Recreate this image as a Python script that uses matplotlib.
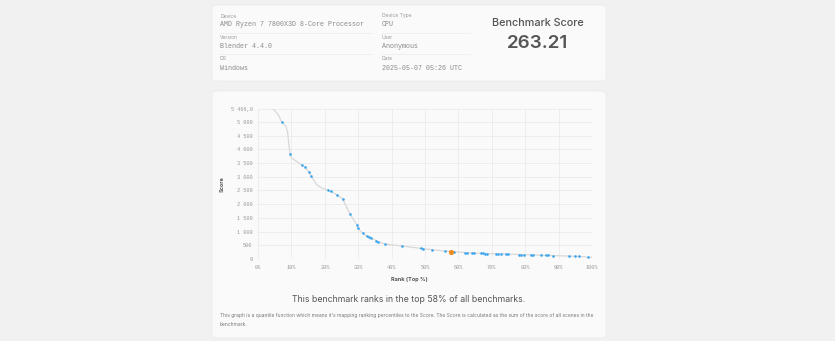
import matplotlib
matplotlib.use("Agg")
import matplotlib.pyplot as plt
from matplotlib.patches import FancyBboxPatch
from matplotlib.ticker import FuncFormatter, MultipleLocator

# benchmark results shown as dots (rank in top %, score)
rank_pct = [7.1, 9.6, 13.3, 14.1, 15.3, 15.9, 20.9, 21.9, 23.6, 25.3, 27.6, 29.6,
            29.9, 31.3, 32.6, 33.3, 33.9, 35.3, 35.9, 37.9, 43.1, 48.9, 49.5, 52.1,
            55.9, 58.7, 61.9, 62.7, 64.2, 64.7, 66.7, 67.4, 68.0, 68.7, 71.4, 72.0,
            72.7, 74.4, 74.9, 78.0, 78.7, 79.5, 81.7, 82.3, 84.7, 86.2, 86.7, 88.2,
            93.2, 95.0, 96.2, 98.7]
scores = [4990, 3835, 3410, 3350, 3155, 3020, 2510, 2460, 2340, 2195, 1625, 1250,
          1115, 945, 825, 790, 775, 655, 630, 545, 475, 385, 375, 340,
          290, 255, 230, 228, 220, 218, 205, 203, 200, 198, 190, 188,
          185, 180, 178, 160, 158, 155, 150, 148, 135, 132, 130, 125,
          105, 95, 93, 75]

# quantile curve
curve_rank = [4.6, 6.1, 7.1, 8.4, 8.9, 9.3, 9.6, 10.1, 13.3, 14.1, 15.3, 15.9,
              17.6, 19.1, 20.9, 21.9, 23.6, 25.3, 27.6, 29.6, 29.9, 31.3, 32.6,
              33.9, 35.9, 37.9, 43.1, 49.5, 55.9, 62.7, 68.7, 74.9, 82.3, 88.2,
              96.2, 100.0]
curve_score = [5466, 5255, 4990, 4830, 4590, 4100, 3835, 3680, 3410, 3350, 3155, 3020,
               2705, 2585, 2510, 2460, 2340, 2195, 1625, 1250, 1115, 945, 825,
               775, 630, 545, 475, 375, 290, 228, 198, 178, 148, 125,
               93, 60]

this_rank = 57.7
this_score = 263.21
y_max = 5466

info_rows = [("Device", "AMD Ryzen 7 7800X3D 8-Core Processor", "Device Type", "CPU"),
             ("Version", "Blender 4.4.0", "User", "Anonymous"),
             ("OS", "Windows", "Date", "2025-05-07 05:26 UTC")]

W, H = 835, 341
fig = plt.figure(figsize=(W / 100, H / 100), dpi=100)
fig.patch.set_facecolor("#f1f1f1")
SANS = ["Inter", "DejaVu Sans"]
MONO = ["Liberation Mono", "DejaVu Sans Mono"]


def fx(px):
    return px / W


def fy(py):
    return 1 - py / H


def card(x0, y0, x1, y1):
    box = FancyBboxPatch((fx(x0), fy(y1)), fx(x1 - x0), (y1 - y0) / H,
                         boxstyle="round,pad=0,rounding_size=0.008",
                         transform=fig.transFigure, facecolor="#fafafa",
                         edgecolor="#ececec", linewidth=0.6, zorder=-5)
    fig.patches.append(box)


card(212, 5, 606, 81)
card(212, 91, 606, 338)

# info table
for i, (l1, v1, l2, v2) in enumerate(info_rows):
    ytop = 16 + i * 21.5
    for xcol, lab, val, wline in [(220, l1, v1, 152), (382, l2, v2, 88)]:
        fig.text(fx(xcol), fy(ytop), lab, fontsize=3.6, color="#999999",
                 family=SANS, va="center")
        fig.text(fx(xcol), fy(ytop + 9), val, fontsize=4.8, color="#8a8a8a",
                 family=MONO, va="center")
        if i < 2:
            fig.add_artist(plt.Line2D([fx(xcol), fx(xcol + wline)],
                                      [fy(ytop + 16.5), fy(ytop + 16.5)],
                                      transform=fig.transFigure,
                                      color="#ebebeb", linewidth=0.5))

fig.text(fx(538), fy(23), "Benchmark Score", fontsize=7.8, color="#555555",
         family=SANS, ha="center", va="center", fontweight="medium")
fig.text(fx(538), fy(44), f"{this_score:.2f}", fontsize=13.5, color="#555555",
         family=SANS, ha="center", va="center", fontweight="semibold")

# chart
ax = fig.add_axes([fx(258), fy(259), fx(592 - 258), (259 - 109) / H])
ax.set_zorder(2)
ax.set_facecolor("none")
ax.plot(curve_rank, curve_score, color="#d8d8d8", linewidth=0.9, zorder=1)
ax.scatter(rank_pct, scores, s=3.5, color="#3aa6f0", linewidths=0, zorder=2)
ax.scatter([this_rank], [this_score], s=14, color="#f08a1c", linewidths=0, zorder=3)

ax.set_xlim(0, 100)
ax.set_ylim(0, y_max)
ax.xaxis.set_major_locator(MultipleLocator(10))
ax.set_yticks(list(range(0, 5001, 500)) + [y_max])
ax.xaxis.set_major_formatter(FuncFormatter(lambda v, p: f"{v:.0f}%"))


def yfmt(v, p):
    if v == y_max:
        return "5 466,0"
    return f"{v:,.0f}".replace(",", " ")


ax.yaxis.set_major_formatter(FuncFormatter(yfmt))
ax.grid(True, color="#e8e8e8", linewidth=0.5)
ax.set_axisbelow(True)
for s in ax.spines.values():
    s.set_visible(False)
ax.tick_params(length=0, labelsize=3.8, labelcolor="#999999", pad=4)
for t in ax.get_xticklabels() + ax.get_yticklabels():
    t.set_family(MONO)

fig.text(fx(222), fy(184), "Score", rotation=90, fontsize=4, fontweight="bold",
         color="#555555", family=SANS, ha="center", va="center")
fig.text(fx(409), fy(279), "Rank (Top %)", fontsize=4, fontweight="bold",
         color="#555555", family=SANS, ha="center", va="center")

fig.text(fx(409), fy(299), "This benchmark ranks in the top 58% of all benchmarks.",
         fontsize=6.3, color="#555555", family=SANS, ha="center", va="center")
fig.text(fx(220), fy(315.5),
         "This graph is a quantile function which means it's mapping ranking percentiles "
         "to the Score. The Score is calculated as the sum of the score of all scenes in the",
         fontsize=3.55, color="#777777", family=SANS, va="center")
fig.text(fx(220), fy(324.5), "benchmark.", fontsize=3.55, color="#777777",
         family=SANS, va="center")

fig.savefig("out.png", dpi=100, facecolor=fig.get_facecolor())
